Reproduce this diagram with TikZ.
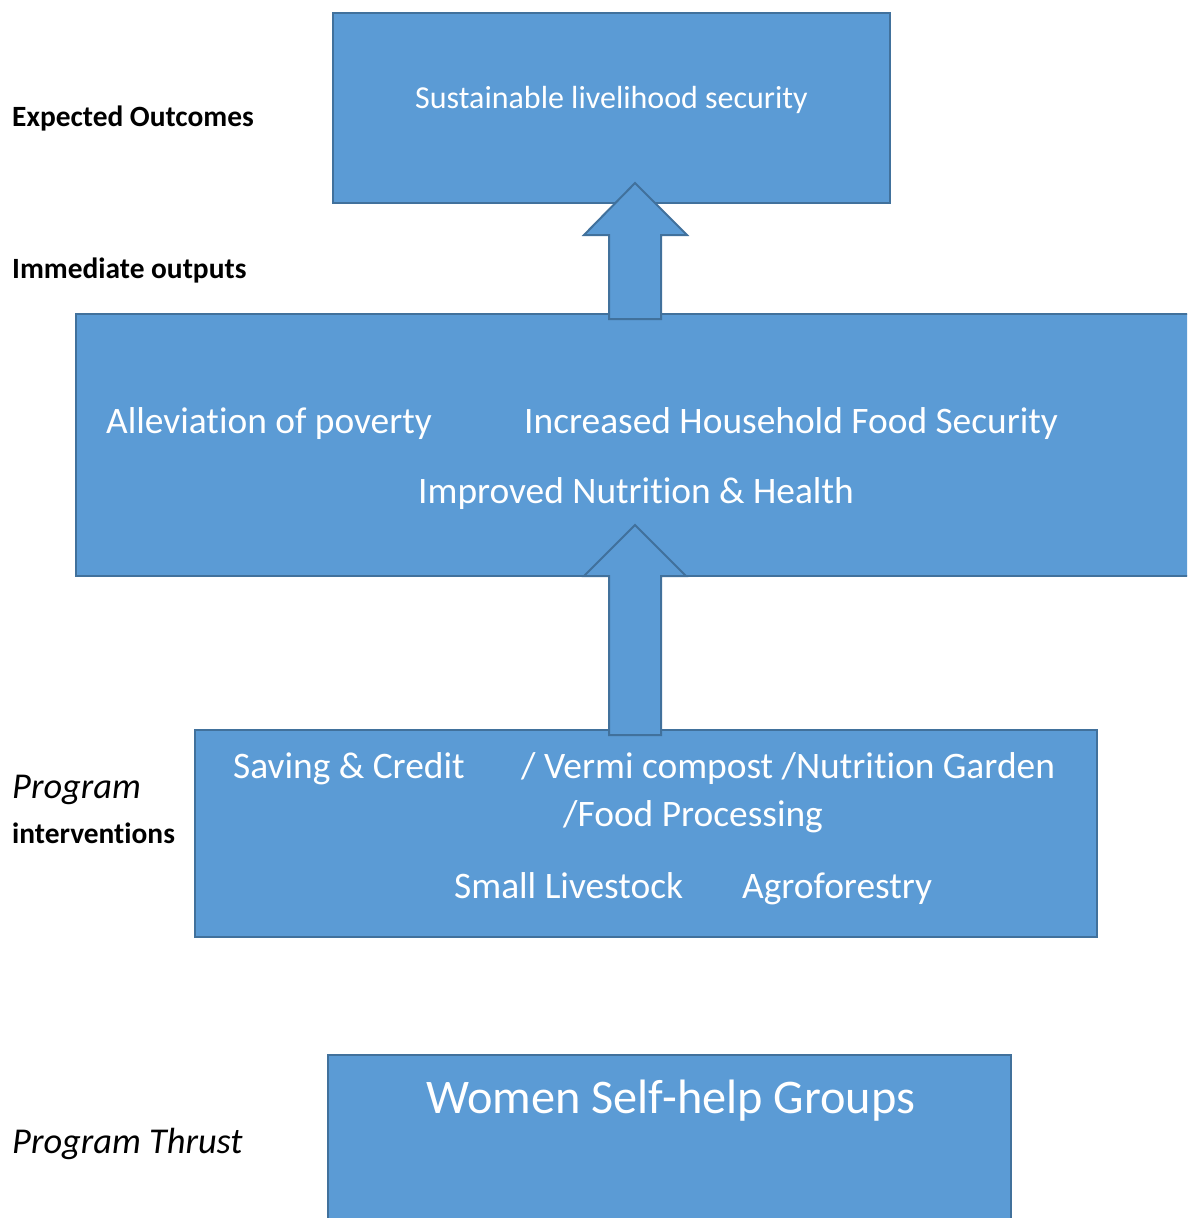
\documentclass[tikz,border=0pt]{standalone}
\usepackage{fontspec}
\setmainfont[Ligatures=NoCommon]{Carlito}
\definecolor{boxfill}{HTML}{5B9BD5}
\definecolor{boxline}{HTML}{41719C}
\tikzset{
  bluebox/.style={fill=boxfill,draw=boxline,line width=2},
  blockarrow/.style={fill=boxfill,draw=boxline,line width=2,line join=miter},
  intext/.style={anchor=base west,inner sep=0,text=white},
  lbl/.style={anchor=base west,inner sep=0,text=black},
}
\begin{document}
\begin{tikzpicture}[x=1pt,y=-1pt]
\useasboundingbox (0,0) rectangle (1187,1218);
\clip (0,0) rectangle (1187,1218);
% boxes
\draw[bluebox] (333,13) rectangle (890,203);
\draw[bluebox] (76,314) rectangle (1200,576);
\draw[bluebox] (195,730) rectangle (1097,937);
\draw[bluebox] (328,1055) rectangle (1011,1230);
% block arrows
\draw[blockarrow] (609,319) -- (609,235) -- (584,235) -- (635,183) -- (687,235) -- (661,235) -- (661,319) -- cycle;
\draw[blockarrow] (609,735) -- (609,576) -- (584,576) -- (635,525) -- (686,576) -- (661,576) -- (661,735) -- cycle;
% texts in boxes
\node[intext,font=\fontsize{32}{36}\selectfont] (t1) at (415,108.5) {Sustainable livelihood security};
\node[intext,font=\fontsize{37.4}{42}\selectfont] (t2) at (106,433.5) {Alleviation of poverty};
\node[intext,font=\fontsize{37.4}{42}\selectfont] (t3) at (524,433.5) {Increased Household Food Security};
\node[intext,font=\fontsize{37.4}{42}\selectfont] (t4) at (418,503.5) {Improved Nutrition \& Health};
\node[intext,font=\fontsize{37.4}{42}\selectfont] (t5) at (233,778.5) {Saving \& Credit};
\node[intext,font=\fontsize{37.4}{42}\selectfont] (t6) at (521,778.5) {/ Vermi compost /Nutrition Garden};
\node[intext,font=\fontsize{37.4}{42}\selectfont] (t7) at (563,826.5) {/Food Processing};
\node[intext,font=\fontsize{37.4}{42}\selectfont] (t8) at (454,898.5) {Small Livestock};
\node[intext,font=\fontsize{37.4}{42}\selectfont] (t9) at (742,898.5) {Agroforestry};
\node[intext,font=\fontsize{48.3}{54}\selectfont] (t10) at (426,1113.5) {Women Self-help Groups};
% side labels
\node[lbl,font=\fontsize{29.4}{34}\selectfont\bfseries] (l1) at (12,126.5) {Expected Outcomes};
\node[lbl,font=\fontsize{29.4}{34}\selectfont\bfseries] (l2) at (12,278.5) {Immediate outputs};
\node[lbl,font=\fontsize{36.4}{42}\selectfont\itshape] (l3) at (12,798.5) {Program};
\node[lbl,font=\fontsize{29.4}{34}\selectfont\bfseries] (l4) at (12,843.5) {interventions};
\node[lbl,font=\fontsize{36.4}{42}\selectfont\itshape] (l5) at (12,1153.5) {Program Thrust};
\end{tikzpicture}
\end{document}
